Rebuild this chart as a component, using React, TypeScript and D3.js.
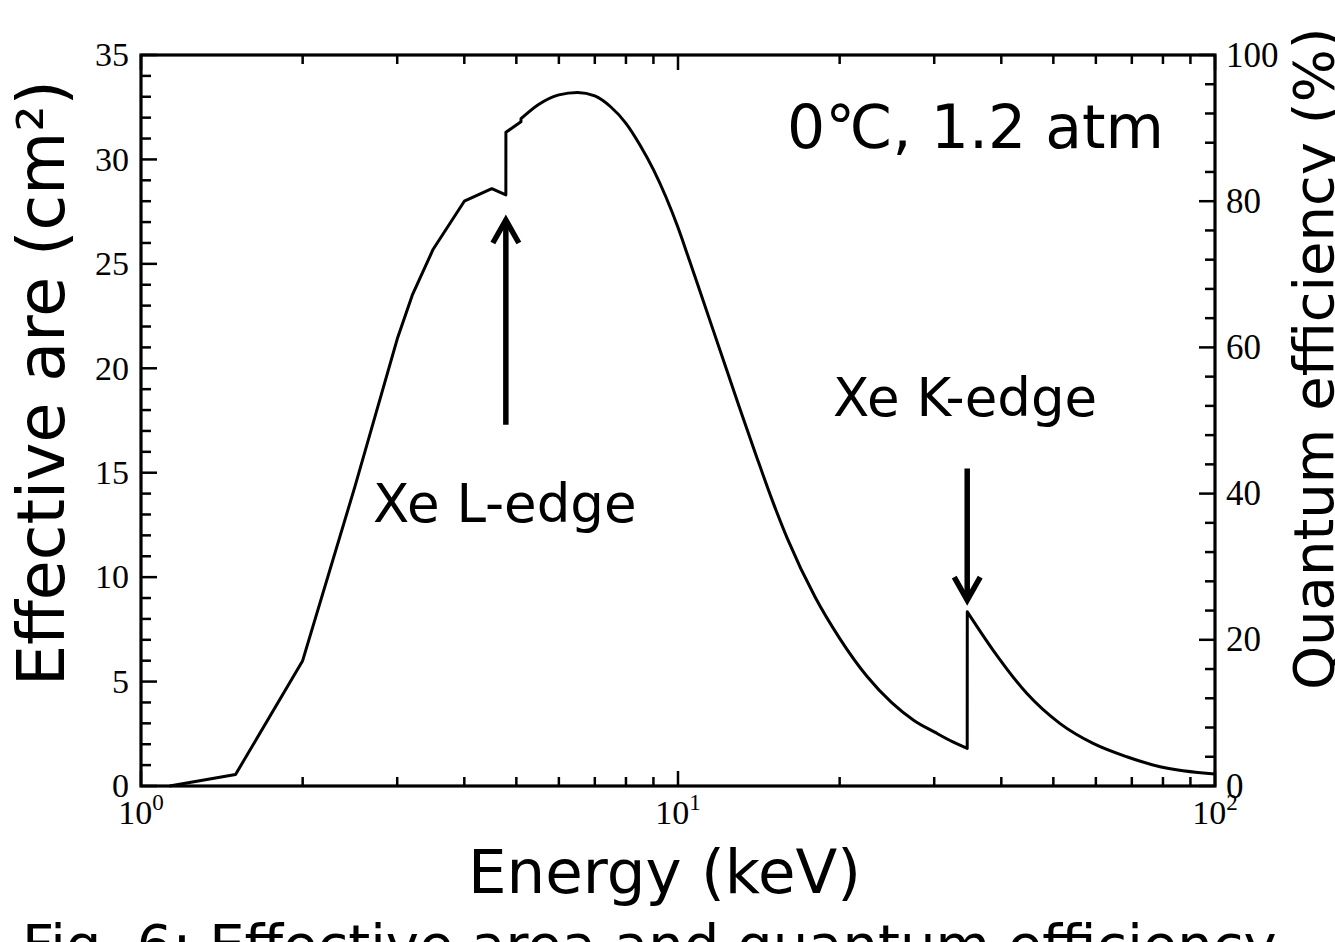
import React from "react";
import * as d3 from "d3";

// Effective area of the Xe gas detector (cm^2) versus photon energy (keV)
const energyKeV = [
  1.13, 1.5, 2.0, 2.5, 3.0, 3.2, 3.5, 4.0, 4.5, 4.78, 4.781, 5.1, 5.101, 5.5,
  6.0, 6.5, 7.0, 7.5, 8.0, 8.5, 9.0, 9.5, 10, 10.5, 11, 12, 13, 14, 15, 16,
  18, 20, 22.5, 25, 27.5, 30, 32.5, 34.56, 34.57, 38.6, 44.6, 51.4, 59.3,
  68.5, 79.0, 100,
];
const effectiveArea = [
  0, 0.55, 6.0, 14.3, 21.4, 23.5, 25.7, 28.0, 28.6, 28.3, 31.3, 31.8, 31.95,
  32.63, 33.09, 33.21, 33.04, 32.51, 31.73, 30.68, 29.51, 28.19, 26.74, 25.17,
  23.65, 20.79, 18.16, 15.78, 13.64, 11.82, 9.05, 7.07, 5.24, 3.99, 3.14, 2.59,
  2.11, 1.8, 8.34, 6.51, 4.44, 3.0, 2.04, 1.4, 0.92, 0.57,
];

// Absorption-edge annotations: edge energy, arrow tail and tip (cm^2)
const edgeNames = ["Xe L-edge", "Xe K-edge"];
const edgeEnergy = [4.78, 34.56];
const arrowTail = [17.3, 15.2];
const arrowTip = [27.1, 8.9];

const areaMajorTicks = [0, 5, 10, 15, 20, 25, 30, 35];
const qeMajorTicks = [0, 20, 40, 60, 80, 100];
const decadeExponents = [0, 1, 2];

const W = 1335;
const H = 942;
const LEFT = 141;
const RIGHT = 1215;
const TOP = 55;
const BOTTOM = 786;

const sans = "'DejaVu Sans', 'Noto Sans', sans-serif";
const serif = "'Liberation Serif', 'DejaVu Serif', serif";

export default function App() {
  const x = d3.scaleLog().domain([1, 100]).range([LEFT, RIGHT]);
  const y = d3.scaleLinear().domain([0, 35]).range([BOTTOM, TOP]);
  const yQ = d3.scaleLinear().domain([0, 100]).range([BOTTOM, TOP]);

  // split the curve at the L- and K-edge jumps: a polyline at low energy,
  // smooth curves between and above the edges
  const idx = d3.range(energyKeV.length);
  const kJump = energyKeV.indexOf(34.57);
  const segLow = idx.filter((i) => i <= 12);
  const segMid = idx.filter((i) => i >= 12 && i < kJump);
  const segHigh = idx.filter((i) => i >= kJump);
  const linear = d3
    .line<number>()
    .x((i) => x(energyKeV[i]))
    .y((i) => y(effectiveArea[i]));
  const smooth = d3
    .line<number>()
    .x((i) => x(energyKeV[i]))
    .y((i) => y(effectiveArea[i]))
    .curve(d3.curveMonotoneX);
  const curve =
    (linear(segLow) as string) +
    (smooth(segMid) as string).replace(/^M/, "L") +
    (smooth(segHigh) as string).replace(/^M/, "L");

  const logTicks = x.ticks();
  const isDecade = (v: number) => Math.abs(Math.log10(v) - Math.round(Math.log10(v))) < 1e-9;
  const areaMinor = d3.range(0, 35.001, 1);
  const qeMinor = d3.range(0, 100.001, 4);

  const tickStroke = { stroke: "#000", strokeWidth: 2.5 };

  return (
    <svg
      width={W}
      height={H}
      viewBox={`0 0 ${W} ${H}`}
      style={{ position: "absolute", left: 0, top: 0, background: "#fff", overflow: "hidden" }}
    >
      <rect x={0} y={0} width={W} height={H} fill="#fff" />

      {/* bottom and top log ticks */}
      {logTicks.map((t, i) => {
        const len = isDecade(t) ? 15 : 9;
        const px = x(t);
        return (
          <g key={"lx" + i}>
            <line x1={px} x2={px} y1={BOTTOM} y2={BOTTOM - len} {...tickStroke} />
            <line x1={px} x2={px} y1={TOP} y2={TOP + len} {...tickStroke} />
          </g>
        );
      })}

      {/* left axis ticks */}
      {areaMinor.map((v) => {
        const major = v % 5 === 0;
        const py = y(v);
        return <line key={"ly" + v} x1={LEFT} x2={LEFT + (major ? 16 : 10)} y1={py} y2={py} {...tickStroke} />;
      })}

      {/* right axis ticks */}
      {qeMinor.map((v) => {
        const major = v % 20 === 0;
        const py = yQ(v);
        return <line key={"ry" + v} x1={RIGHT} x2={RIGHT - (major ? 16 : 10)} y1={py} y2={py} {...tickStroke} />;
      })}

      {/* frame */}
      <rect
        x={LEFT}
        y={TOP}
        width={RIGHT - LEFT}
        height={BOTTOM - TOP}
        fill="none"
        stroke="#000"
        strokeWidth={3.2}
      />

      {/* effective area curve */}
      <path d={curve} fill="none" stroke="#000" strokeWidth={3} strokeLinejoin="round" />

      {/* left tick labels */}
      {areaMajorTicks.map((v) => (
        <text
          key={"lt" + v}
          x={LEFT - 12}
          y={y(v)}
          dy="0.33em"
          textAnchor="end"
          fontFamily={serif}
          fontSize={34}
        >
          {v}
        </text>
      ))}

      {/* right tick labels */}
      {qeMajorTicks.map((v) => (
        <text
          key={"rt" + v}
          x={RIGHT + 11}
          y={yQ(v)}
          dy="0.33em"
          textAnchor="start"
          fontFamily={serif}
          fontSize={35}
        >
          {v}
        </text>
      ))}

      {/* bottom decade labels */}
      {decadeExponents.map((e) => (
        <text
          key={"bt" + e}
          x={x(Math.pow(10, e))}
          y={BOTTOM + 38}
          textAnchor="middle"
          fontFamily={serif}
          fontSize={34}
        >
          10
          <tspan fontSize={23} dy={-14}>
            {e}
          </tspan>
        </text>
      ))}

      {/* edge arrows */}
      {edgeNames.map((name, i) => {
        const px = x(edgeEnergy[i]);
        const y0 = y(arrowTail[i]);
        const y1 = y(arrowTip[i]);
        const dir = y1 < y0 ? 1 : -1;
        return (
          <g key={name}>
            <line x1={px} x2={px} y1={y0} y2={y1 + dir * 2} stroke="#000" strokeWidth={5.5} />
            <path
              d={`M${px - 13},${y1 + dir * 23} L${px},${y1} L${px + 13},${y1 + dir * 23}`}
              fill="none"
              stroke="#000"
              strokeWidth={5.5}
              strokeLinejoin="miter"
            />
          </g>
        );
      })}

      <text x={373} y={522} fontFamily={sans} fontSize={53}>
        {edgeNames[0]}
      </text>
      <text x={833} y={416} fontFamily={sans} fontSize={53}>
        {edgeNames[1]}
      </text>

      <text x={787} y={148} fontFamily={sans} fontSize={60}>
        0℃, 1.2 atm
      </text>

      {/* axis titles */}
      <text
        transform={`translate(64, 686) rotate(-90)`}
        textAnchor="start"
        fontFamily={sans}
        fontSize={65}
      >
        Effective are (cm²)
      </text>
      <text
        transform={`translate(1333, 690) rotate(-90)`}
        textAnchor="start"
        fontFamily={sans}
        fontSize={56}
      >
        Quantum efficiency (%)
      </text>
      <text x={468} y={893} textAnchor="start" fontFamily={sans} fontSize={61}>
        Energy (keV)
      </text>

      {/* figure caption */}
      <text x={22} y={964} fontFamily={sans} fontSize={56}>
        Fig. 6: Effective area and quantum efficiency
      </text>
    </svg>
  );
}
